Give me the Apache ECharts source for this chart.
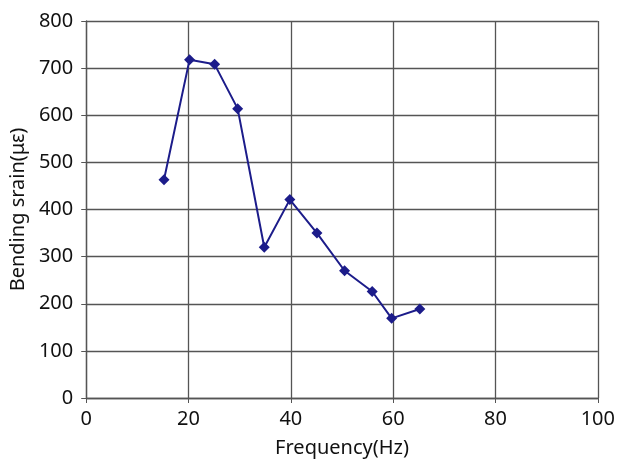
<!DOCTYPE html>
<html>
<head>
<meta charset="utf-8">
<script src="https://cdn.jsdelivr.net/npm/echarts@6/dist/echarts.min.js"></script>
<style>
  html, body { margin: 0; padding: 0; background: #fff; }
  #chart { width: 618px; height: 463px; }
</style>
</head>
<body>
<div id="chart"></div>
<script>
// 频率 (Hz) 与弯曲应变 (με)
const frequency = [15.2, 20.2, 25.1, 29.6, 34.8, 39.8, 45.1, 50.5, 55.9, 59.7, 65.2]
const strain = [463, 718, 708, 614, 320, 421, 350, 270, 226, 169, 189]

const chart = echarts.init(document.getElementById('chart'))
const fontFamily = '"Noto Sans", sans-serif'
const gridLine = { show: true, lineStyle: { color: '#555', width: 1.3 } }

const option = {
  animation: false,
  grid: { left: 86, right: 15, top: 21, bottom: 63 },
  xAxis: {
    type: 'value',
    min: 0,
    max: 100,
    interval: 20,
    name: 'Frequency(Hz)',
    nameLocation: 'middle',
    nameGap: 40,
    nameTextStyle: { fontFamily, fontSize: 20, color: '#111' },
    axisLine: { lineStyle: { color: '#555', width: 1.3 } },
    axisTick: { show: true, length: 5, lineStyle: { color: '#555' } },
    axisLabel: { fontFamily, fontSize: 20, color: '#111', margin: 11 },
    splitLine: gridLine,
  },
  yAxis: {
    type: 'value',
    min: 0,
    max: 800,
    interval: 100,
    name: 'Bending srain(με)',
    nameLocation: 'middle',
    nameGap: 52,
    nameTextStyle: { fontFamily, fontSize: 20, color: '#111' },
    axisLine: { show: true, lineStyle: { color: '#555', width: 1.3 } },
    axisTick: { show: true, length: 5, lineStyle: { color: '#555' } },
    axisLabel: { fontFamily, fontSize: 20, color: '#111', margin: 13 },
    splitLine: gridLine,
  },
  series: [
    {
      type: 'line',
      data: frequency.map((f, i) => [f, strain[i]]),
      symbol: 'diamond',
      symbolSize: 11,
      lineStyle: { color: '#1c1c8a', width: 2 },
      itemStyle: { color: '#1c1c8a' },
    },
  ],
}

chart.setOption(option)
</script>
</body>
</html>
